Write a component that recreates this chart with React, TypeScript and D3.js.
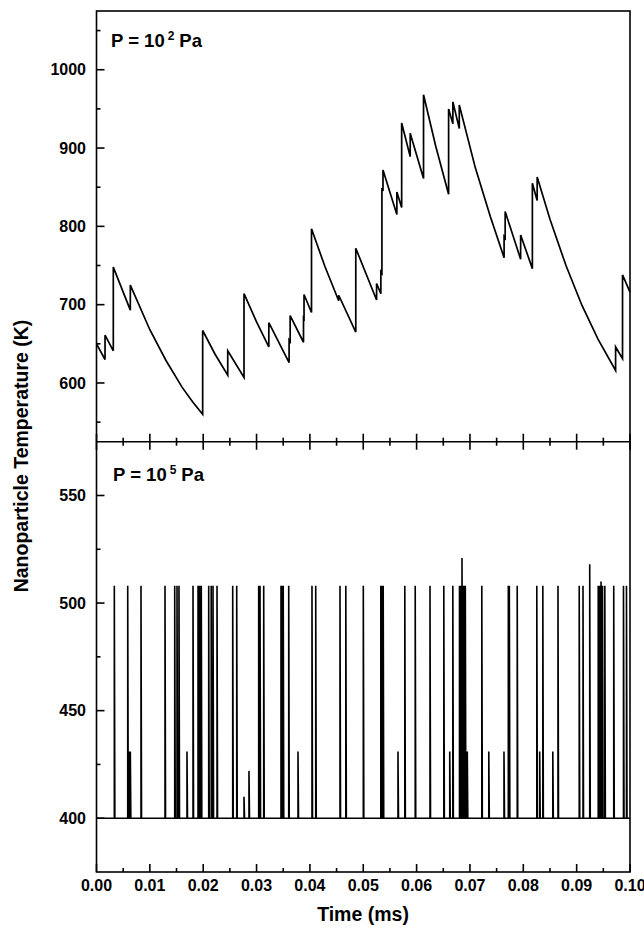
import React from "react";
import * as d3 from "d3";

// Upper panel (P = 10^2 Pa): particle temperature trace, repeated times mark instantaneous jumps
const topTime = [
  0.0, 0.0016, 0.0016, 0.00315, 0.00315, 0.00634, 0.00634, 0.01, 0.013, 0.016, 0.018, 0.0199,
  0.0199, 0.0222, 0.0246, 0.0246, 0.02765, 0.02765, 0.03, 0.0323, 0.0323, 0.0361, 0.0361, 0.0363,
  0.0363, 0.0388, 0.0388, 0.0389, 0.0389, 0.0403, 0.0403, 0.0428, 0.0454, 0.0454, 0.0486, 0.0486,
  0.0525, 0.0525, 0.0533, 0.0533, 0.0535, 0.0535, 0.0537, 0.0537, 0.0563, 0.0563, 0.0572, 0.0572,
  0.0588, 0.0588, 0.0613, 0.0613, 0.0636, 0.066, 0.066, 0.0668, 0.0668, 0.068, 0.068, 0.071,
  0.0738, 0.0764, 0.0764, 0.0766, 0.0766, 0.0795, 0.0795, 0.0817, 0.0817, 0.0826, 0.0826, 0.085,
  0.088, 0.091, 0.094, 0.0973, 0.0973, 0.0986, 0.0986, 0.1,
];
const topTemp = [
  650, 630, 661, 641, 748, 693, 725, 668, 629, 595, 576, 560,
  667, 637, 610, 641, 607, 714, 678, 646, 677, 626, 655, 653,
  686, 652, 683, 682, 713, 690, 797, 749, 705, 712, 665, 772,
  706, 727, 714, 742, 740, 849, 845, 872, 815, 844, 824, 932,
  889, 919, 861, 968, 902, 841, 950, 931, 959, 925, 955, 875,
  813, 760, 787, 785, 819, 758, 789, 746, 855, 833, 863, 809,
  750, 699, 656, 616, 646, 631, 738, 716,
];

// Lower panel (P = 10^5 Pa): heating spikes above the gas temperature
const gasTemp = 400;
const spikeTime = [
  0.00334, 0.00585, 0.00615, 0.00634, 0.00834, 0.01284, 0.01466, 0.01509, 0.01546, 0.01696,
  0.01809, 0.01903, 0.01933, 0.01964, 0.02103, 0.0215, 0.02184, 0.02259, 0.02553, 0.02628,
  0.02765, 0.02858, 0.0304, 0.03065, 0.03134, 0.03458, 0.03477, 0.035, 0.03603, 0.03777,
  0.04039, 0.04109, 0.04564, 0.04673, 0.05001, 0.05329, 0.05351, 0.05374, 0.05651, 0.05779,
  0.05974, 0.06251, 0.0651, 0.06621, 0.06679, 0.06804, 0.06827, 0.06842, 0.06851, 0.0687,
  0.06888, 0.069, 0.06913, 0.0695, 0.07222, 0.07353, 0.07638, 0.07719, 0.07738, 0.07886,
  0.08253, 0.08307, 0.08366, 0.08553, 0.0865, 0.09048, 0.09119, 0.09245, 0.09404, 0.09428,
  0.09457, 0.09485, 0.09528, 0.09695, 0.09878, 0.09934,
];
const spikePeak = [
  508, 508, 431, 431, 508, 508, 508, 508, 508, 431,
  508, 508, 508, 508, 508, 508, 508, 508, 508, 508,
  410, 422, 508, 508, 508, 508, 508, 508, 508, 431,
  508, 508, 508, 508, 508, 508, 508, 508, 431, 508,
  508, 508, 508, 431, 508, 508, 508, 508, 521, 508,
  508, 460, 508, 431, 508, 431, 431, 508, 508, 508,
  508, 431, 508, 431, 508, 508, 508, 518, 508, 508,
  510, 508, 508, 508, 508, 508,
];
const spikeWidth = 0.0001;

const xTickValues = [0, 0.01, 0.02, 0.03, 0.04, 0.05, 0.06, 0.07, 0.08, 0.09, 0.1];
const topTickValues = [600, 700, 800, 900, 1000];
const bottomTickValues = [400, 450, 500, 550];

const W = 644;
const H = 930;
const left = 96.5;
const right = 630;
const top = 11;
const mid = 441.7;
const bottom = 872;

const FONT = "'Liberation Sans', Arial, Helvetica, sans-serif";

export default function App() {
  const x = d3.scaleLinear().domain([0, 0.1]).range([left, right]);
  const yTop = d3.scaleLinear().domain([525, 1075]).range([mid, top]);
  const yBot = d3.scaleLinear().domain([375, 575]).range([bottom, mid]);

  const topPts: [number, number][] = topTime.map((t, i) => [t, topTemp[i]]);
  const topPath = d3
    .line<[number, number]>()
    .x((d) => x(d[0]))
    .y((d) => yTop(d[1]))(topPts);

  const order = d3.range(spikeTime.length).sort((a, b) => spikeTime[a] - spikeTime[b]);
  const botPts: [number, number][] = [[0, gasTemp]];
  order.forEach((i) => {
    botPts.push([spikeTime[i], gasTemp]);
    botPts.push([spikeTime[i], spikePeak[i]]);
    botPts.push([spikeTime[i] + spikeWidth, gasTemp]);
  });
  botPts.push([0.1, gasTemp]);
  const botPath = d3
    .line<[number, number]>()
    .x((d) => x(d[0]))
    .y((d) => yBot(d[1]))(botPts);

  const xMinor = xTickValues.slice(0, -1).map((v) => v + 0.005);
  const topMinor = [550, 650, 750, 850, 950, 1050];
  const botMinor = [425, 475, 525];
  const fmt = d3.format(".2f");

  const axisStroke = { stroke: "#000", strokeWidth: 1.6, fill: "none" };

  return (
    <svg
      width={W}
      height={H}
      viewBox={`0 0 ${W} ${H}`}
      style={{ position: "absolute", left: 0, top: 0, background: "#fff" }}
      fontFamily={FONT}
      fontWeight="bold"
    >
      <rect width={W} height={H} fill="#fff" />

      {/* data */}
      <path d={topPath || ""} fill="none" stroke="#000" strokeWidth={1.7} strokeLinejoin="miter" />
      <path d={botPath || ""} fill="none" stroke="#000" strokeWidth={1.6} />

      {/* frames */}
      <rect x={left} y={top} width={right - left} height={bottom - top} {...axisStroke} />
      <line x1={left} x2={right} y1={mid} y2={mid} {...axisStroke} />

      {/* x ticks: bottom axis and the shared divider */}
      {xTickValues.map((v) => (
        <g key={"xt" + v}>
          <line x1={x(v)} x2={x(v)} y1={bottom} y2={bottom - 8} {...axisStroke} />
          <line x1={x(v)} x2={x(v)} y1={mid - 8} y2={mid + 8} {...axisStroke} />
          <text x={x(v)} y={891} textAnchor="middle" fontSize={16}>
            {fmt(v)}
          </text>
        </g>
      ))}
      {xMinor.map((v) => (
        <g key={"xm" + v}>
          <line x1={x(v)} x2={x(v)} y1={bottom} y2={bottom - 4} {...axisStroke} />
          <line x1={x(v)} x2={x(v)} y1={mid - 4} y2={mid + 4} {...axisStroke} />
        </g>
      ))}

      {/* y ticks, upper panel */}
      {topTickValues.map((v) => (
        <g key={"yt" + v}>
          <line x1={left} x2={left + 8} y1={yTop(v)} y2={yTop(v)} {...axisStroke} />
          <text x={86} y={yTop(v) + 5.7} textAnchor="end" fontSize={16}>
            {v}
          </text>
        </g>
      ))}
      {topMinor.map((v) => (
        <line key={"ytm" + v} x1={left} x2={left + 4} y1={yTop(v)} y2={yTop(v)} {...axisStroke} />
      ))}

      {/* y ticks, lower panel */}
      {bottomTickValues.map((v) => (
        <g key={"yb" + v}>
          <line x1={left} x2={left + 8} y1={yBot(v)} y2={yBot(v)} {...axisStroke} />
          <text x={86} y={yBot(v) + 5.7} textAnchor="end" fontSize={16}>
            {v}
          </text>
        </g>
      ))}
      {botMinor.map((v) => (
        <line key={"ybm" + v} x1={left} x2={left + 4} y1={yBot(v)} y2={yBot(v)} {...axisStroke} />
      ))}

      {/* panel labels */}
      <text x={111} y={47.3} fontSize={18.5}>
        <tspan>P = 10</tspan>
        <tspan dx={3} dy={-7} fontSize={12}>2</tspan>
        <tspan dx={5} dy={7}>Pa</tspan>
      </text>
      <text x={113} y={480.7} fontSize={18.5}>
        <tspan>P = 10</tspan>
        <tspan dx={3} dy={-7} fontSize={12}>5</tspan>
        <tspan dx={5} dy={7}>Pa</tspan>
      </text>

      {/* axis titles */}
      <text x={363} y={921} textAnchor="middle" fontSize={19.5}>
        Time (ms)
      </text>
      <text transform="translate(27.5,456) rotate(-90)" textAnchor="middle" fontSize={19.5}>
        Nanoparticle Temperature (K)
      </text>
    </svg>
  );
}
